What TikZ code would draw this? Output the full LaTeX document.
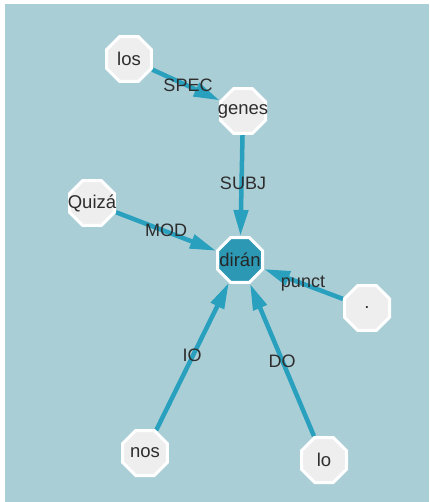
\documentclass[tikz,border=0pt]{standalone}
\usepackage{fontspec}
\setmainfont{Liberation Sans}
\usetikzlibrary{shapes.geometric, arrows.meta}

\definecolor{canvas}{RGB}{170,206,214}
\definecolor{wordfill}{RGB}{238,238,238}
\definecolor{rootfill}{RGB}{44,152,180}
\definecolor{link}{RGB}{40,160,190}
\definecolor{ink}{RGB}{45,45,45}

\pgfdeclarelayer{canvaslayer}
\pgfdeclarelayer{arclayer}
\pgfsetlayers{canvaslayer,arclayer,main}

\tikzset{
  word/.style={regular polygon, regular polygon sides=8, minimum size=48.7pt,
    inner sep=0pt, line width=3pt, draw=white, fill=wordfill, text=ink,
    font=\fontsize{18.5pt}{21pt}\selectfont},
  root/.style={word, fill=rootfill, text=black!85},
  rel/.style={draw=link, line width=4.5pt, -{Triangle[length=26pt, width=14pt]}},
  tag/.style={text=ink, inner sep=0pt, font=\fontsize{18pt}{21pt}\selectfont}
}

\begin{document}
\begin{tikzpicture}[x=1pt, y=-1pt]
  \useasboundingbox (0,0) rectangle (429,502);
  \begin{pgfonlayer}{canvaslayer}
    \fill[white] (0,0) rectangle (429,502);
    \fill[canvas] (4.5,4.5) rectangle (429,502);
  \end{pgfonlayer}

  % words of the sentence
  \node[word] (los)   at (129,59)  {\makebox[0pt]{los}};
  \node[word] (genes) at (243,111) {\makebox[0pt]{genes}};
  \node[word] (quiza) at (92,203)  {\makebox[0pt]{Quizá}};
  \node[root] (diran) at (240,260) {\makebox[0pt]{dirán}};
  \node[word] (dot)   at (367,308) {\makebox[0pt]{.}};
  \node[word] (nos)   at (145,453) {\makebox[0pt]{nos}};
  \node[word] (lo)    at (324,460) {\makebox[0pt]{lo}};

  % dependency arcs, kept beneath the words
  \begin{pgfonlayer}{arclayer}
    \draw[rel] (los)   -- (genes);
    \draw[rel] (genes) -- (diran);
    \draw[rel] (quiza) -- (diran);
    \draw[rel] (dot)   -- (diran);
    \draw[rel] (nos)   -- (diran);
    \draw[rel] (lo)    -- (diran);
  \end{pgfonlayer}

  % relation labels
  \node[tag] (lspec)  at (188,85)  {SPEC};
  \node[tag] (lsubj)  at (243,183) {SUBJ};
  \node[tag] (lmod)   at (166,230) {MOD};
  \node[tag] (lpunct) at (303,284) {punct};
  \node[tag] (lio)    at (192,355) {IO};
  \node[tag] (ldo)    at (282,361) {DO};
\end{tikzpicture}
\end{document}
